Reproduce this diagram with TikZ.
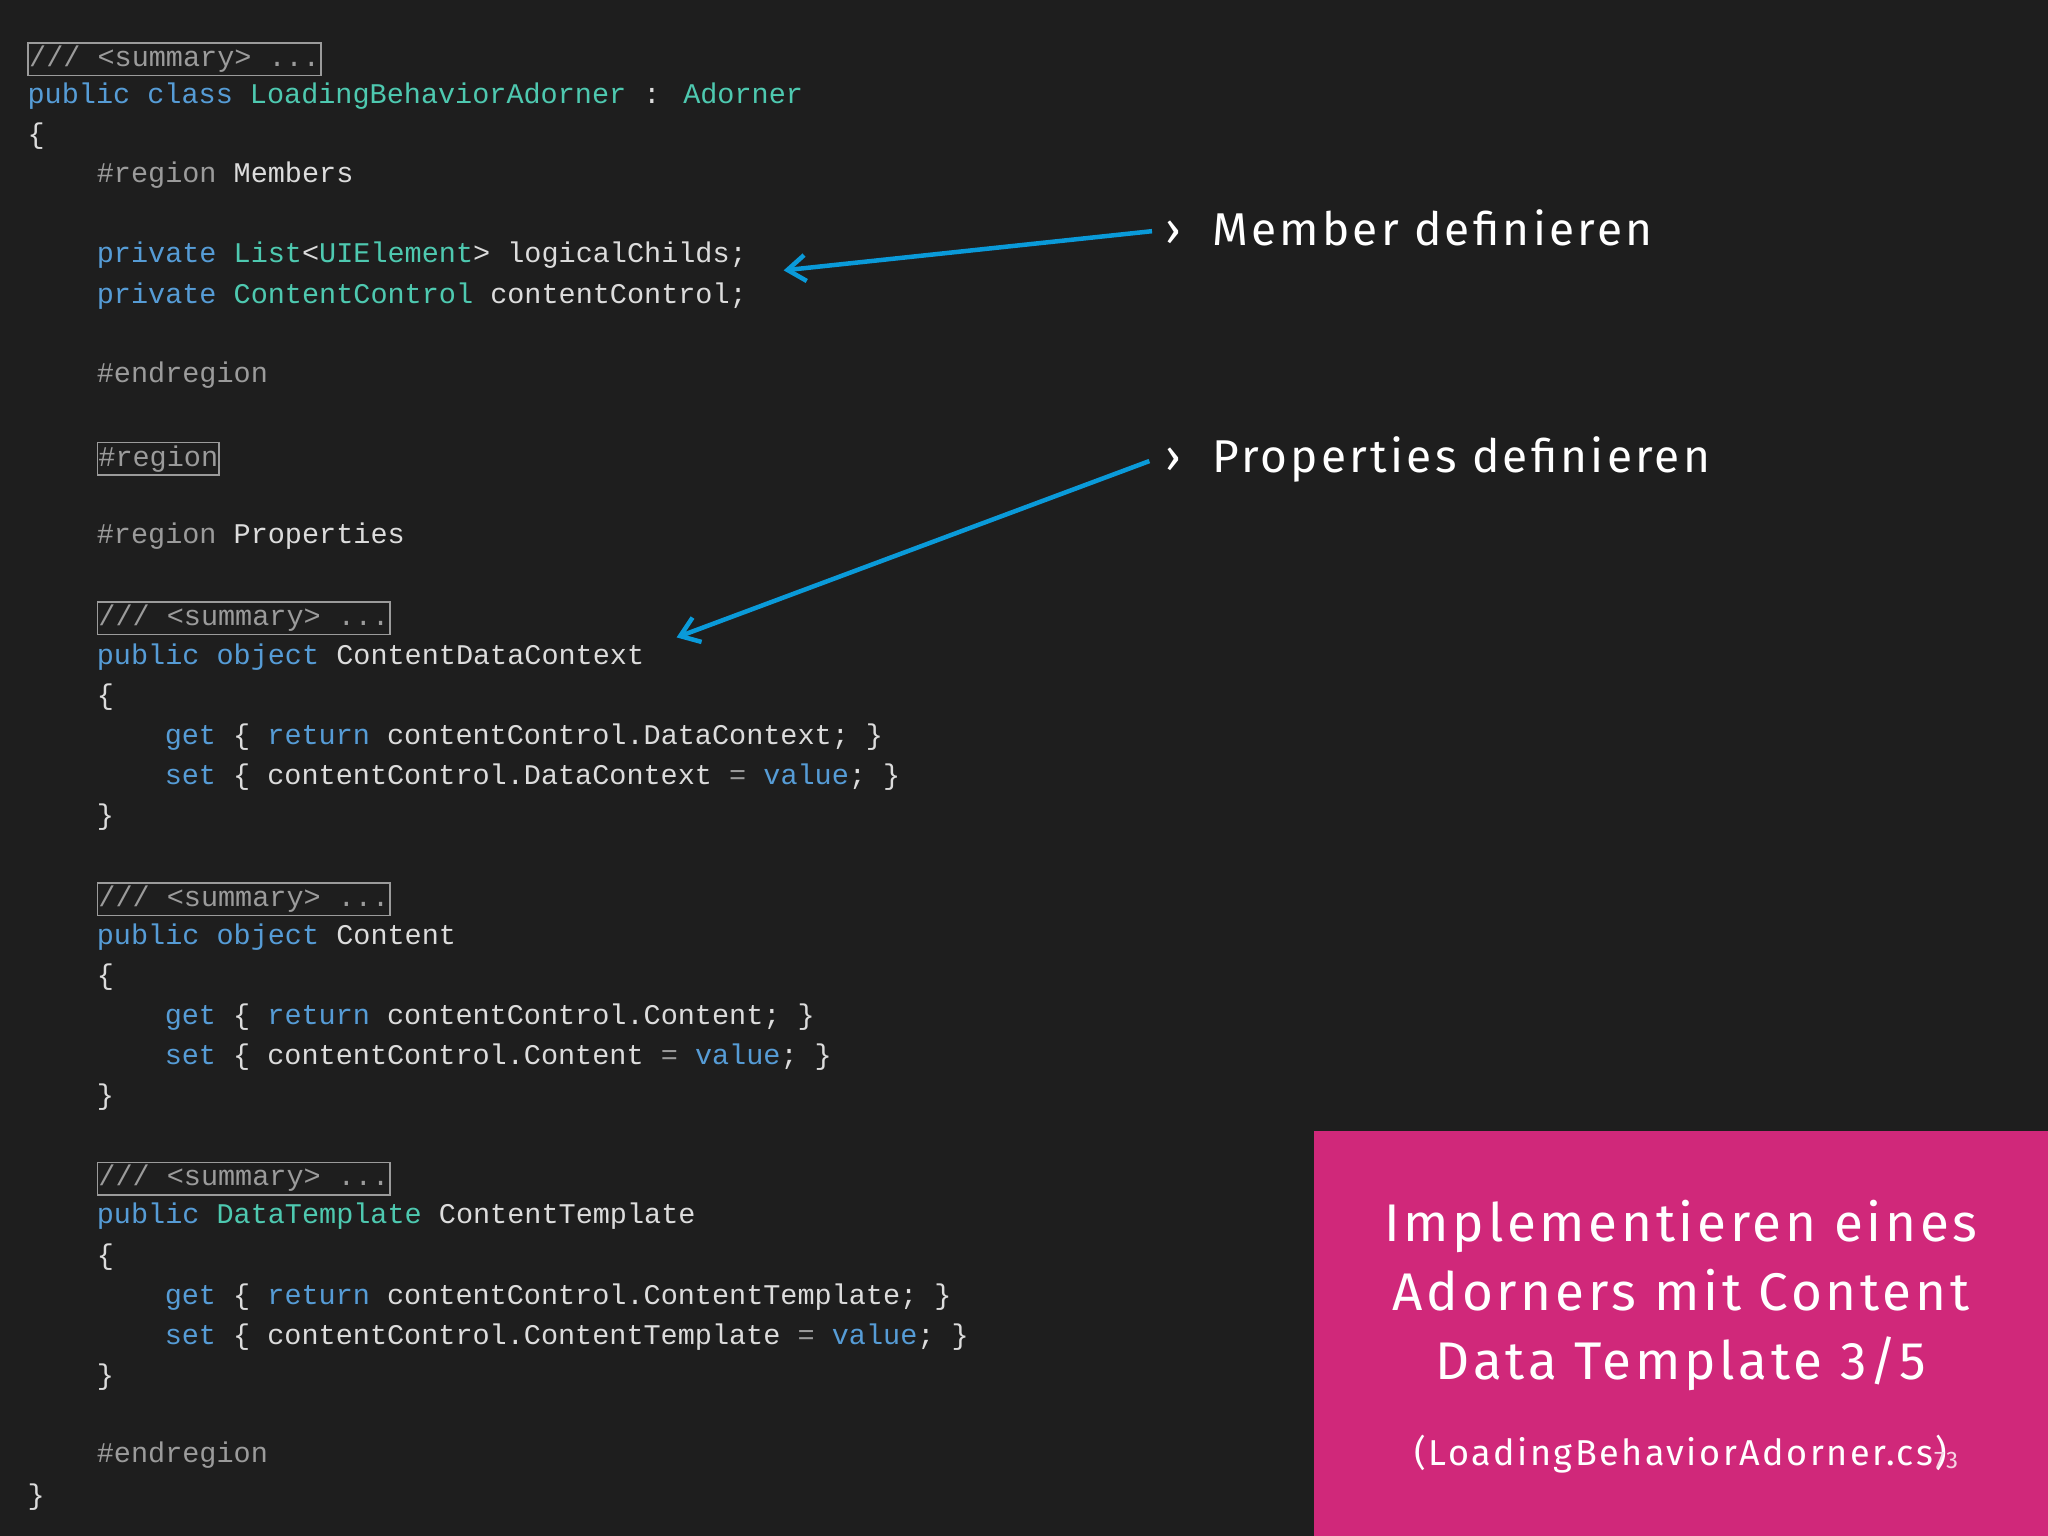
\documentclass[tikz,border=0pt]{standalone}
\usetikzlibrary{arrows.meta}
\usepackage{fontspec}
\setmainfont{Fira Sans}[LetterSpace=7]
\newfontfamily\codefont{Liberation Mono}
\definecolor{bg}{HTML}{1E1E1E}
\definecolor{kw}{HTML}{569CD6}
\definecolor{ty}{HTML}{4EC9B0}
\definecolor{tx}{HTML}{DCDCDC}
\definecolor{gr}{HTML}{9B9B9B}
\definecolor{mag}{HTML}{D0287A}
\definecolor{arr}{HTML}{0A9AD9}
\newcommand{\kw}[1]{\textcolor{kw}{#1}}
\newcommand{\ty}[1]{\textcolor{ty}{#1}}
\newcommand{\gr}[1]{\textcolor{gr}{#1}}
\begin{document}
\begin{tikzpicture}[x=1.306pt,y=-1.306pt,
 code/.style={anchor=base west,inner sep=0pt,text=tx,font=\codefont\fontsize{28.5}{28.5}\selectfont},
 fold/.style={draw=gr,line width=1.5pt,inner xsep=1pt,inner ysep=3pt},
 callout/.style={anchor=base west,inner sep=0pt,text=white,font=\fontsize{46}{46}\selectfont},
 pointer/.style={draw=arr,line width=4.5pt,-{Straight Barb[length=18pt,width=26pt]}}]
\useasboundingbox (0,0) rectangle (1568,1176);
\fill[bg] (0,0) rectangle (1568,1176);
\def\lc{21}\def\lb{74}\def\la{126}
\node[code,fold] (s1) at (\lc,51) {\gr{/// <summary> ...}};
\node[code] (l1) at (\lc,79) {\kw{public} \kw{class} \ty{LoadingBehaviorAdorner} : \ty{Adorner}};
\node[code] (l2) at (\lc,110) {\{};
\node[code] (l3) at (\lb,140) {\gr{\#region} Members};
\node[code] (l4) at (\lb,201) {\kw{private} \ty{List}<\ty{UIElement}> logicalChilds;};
\node[code] (l5) at (\lb,232) {\kw{private} \ty{ContentControl} contentControl;};
\node[code] (l6) at (\lb,293) {\gr{\#endregion}};
\node[code,fold] (l7) at (\lb,357) {\gr{\#region}};
\node[code] (l8) at (\lb,416) {\gr{\#region} Properties};
\node[code,fold] (s2) at (\lb,479) {\gr{/// <summary> ...}};
\node[code] (p1) at (\lb,509) {\kw{public} \kw{object} ContentDataContext};
\node[code] at (\lb,539) {\{};
\node[code] at (\la,570) {\kw{get} \{ \kw{return} contentControl.DataContext; \}};
\node[code] at (\la,601) {\kw{set} \{ contentControl.DataContext \gr{=} \kw{value}; \}};
\node[code] at (\lb,631) {\}};
\node[code,fold] (s3) at (\lb,694) {\gr{/// <summary> ...}};
\node[code] at (\lb,723) {\kw{public} \kw{object} Content};
\node[code] at (\lb,754) {\{};
\node[code] at (\la,784) {\kw{get} \{ \kw{return} contentControl.Content; \}};
\node[code] at (\la,815) {\kw{set} \{ contentControl.Content \gr{=} \kw{value}; \}};
\node[code] at (\lb,846) {\}};
\node[code,fold] (s4) at (\lb,908) {\gr{/// <summary> ...}};
\node[code] at (\lb,937) {\kw{public} \ty{DataTemplate} ContentTemplate};
\node[code] at (\lb,968) {\{};
\node[code] at (\la,999) {\kw{get} \{ \kw{return} contentControl.ContentTemplate; \}};
\node[code] at (\la,1029) {\kw{set} \{ contentControl.ContentTemplate \gr{=} \kw{value}; \}};
\node[code] at (\lb,1060) {\}};
\node[code] at (\lb,1120) {\gr{\#endregion}};
\node[code] at (\lc,1152) {\}};
% callouts
\node[callout] (m) at (928,188) {Member definieren};
\node[callout] (p) at (928,362) {Properties definieren};
\node[callout,anchor=base] (b1) at (898,188) {›};
\node[callout,anchor=base] (b2) at (898,362) {›};
\coordinate (m0) at (882,177);
\coordinate (m1) at (600,207);
\coordinate (p0) at (880,353);
\coordinate (p1e) at (518,488);
\draw[pointer] (m0) -- (m1);
\draw[pointer] (p0) -- (p1e);
% magenta box
\fill[mag] (1006,866) rectangle (1568,1176);
\node[align=center,text=white,font=\fontsize{53}{69}\selectfont,anchor=north] (t) at (1287,916)
 {Implementieren eines\\Adorners mit Content\\Data Template 3/5};
\node[text=white,font=\fontsize{36}{36}\selectfont,anchor=base] (f) at (1287,1122) {(LoadingBehaviorAdorner.cs)};
\node[text=white!80!mag,font=\fontsize{24}{24}\selectfont,anchor=base] (n) at (1490,1124) {73};
\end{tikzpicture}
\end{document}
